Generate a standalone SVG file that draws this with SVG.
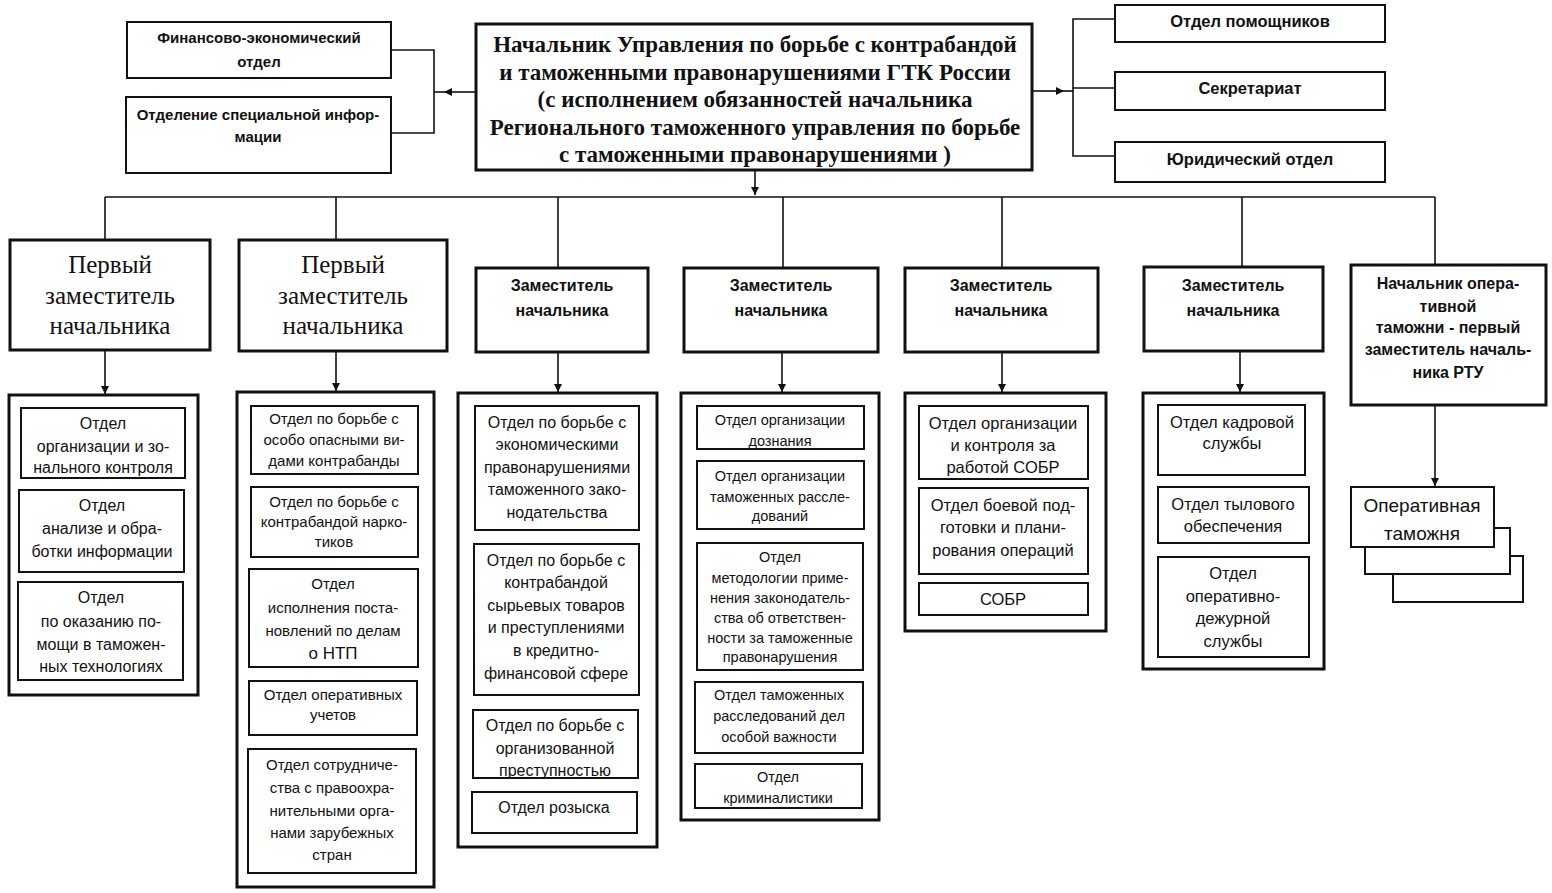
<svg xmlns="http://www.w3.org/2000/svg" width="1552" height="893" viewBox="0 0 1552 893">
<style>
.bx{fill:#fff;stroke:#111;stroke-width:2}
.bk{fill:#fff;stroke:#111;stroke-width:3}
.ln{fill:none;stroke:#111;stroke-width:1.6}
text{fill:#111;text-anchor:middle}
.s{font-family:"Liberation Sans",Arial,sans-serif}
.sb{font-family:"Liberation Sans",Arial,sans-serif;font-weight:bold}
.sf{font-family:"Liberation Serif","Times New Roman",serif}
.sfb{font-family:"Liberation Serif","Times New Roman",serif;font-weight:bold;font-size:23px}
.f16{font-size:16px}.f15{font-size:15px}.f145{font-size:14.5px}.f165{font-size:16.5px}
.dep{font-family:"Liberation Serif","Times New Roman",serif;font-size:25px}
.dz{font-family:"Liberation Sans",Arial,sans-serif;font-weight:bold;font-size:16px}
</style>
<defs>
<marker id="ad" viewBox="0 0 8 10" refX="8" refY="5" markerWidth="8" markerHeight="10" markerUnits="userSpaceOnUse" orient="auto">
<path d="M0,1 L8,5 L0,9 Z" fill="#111"/>
</marker>
</defs>
<rect width="1552" height="893" fill="#fff"/>

<g id="connectors">
<line class="ln" x1="475" y1="92" x2="444" y2="92" marker-end="url(#ad)"/>
<line class="ln" x1="444" y1="92" x2="434" y2="92"/>
<polyline class="ln" points="391,50 434,50 434,133 391,133"/>
<line class="ln" x1="1032" y1="91" x2="1064" y2="91" marker-end="url(#ad)"/>
<line class="ln" x1="1064" y1="91" x2="1073" y2="91"/>
<polyline class="ln" points="1115,19 1073,19 1073,156 1115,156"/>
<line class="ln" x1="1073" y1="88" x2="1115" y2="88"/>
<line class="ln" x1="755" y1="170" x2="755" y2="195" marker-end="url(#ad)"/>
<line class="ln" x1="105" y1="197" x2="1435" y2="197"/>
<line class="ln" x1="105" y1="197" x2="105" y2="240"/>
<line class="ln" x1="336" y1="197" x2="336" y2="240"/>
<line class="ln" x1="558" y1="197" x2="558" y2="267"/>
<line class="ln" x1="783" y1="197" x2="783" y2="267"/>
<line class="ln" x1="1002" y1="197" x2="1002" y2="267"/>
<line class="ln" x1="1242" y1="197" x2="1242" y2="267"/>
<line class="ln" x1="1435" y1="197" x2="1435" y2="265"/>
<line class="ln" x1="105" y1="350" x2="105" y2="394" marker-end="url(#ad)"/>
<line class="ln" x1="336" y1="351" x2="336" y2="391" marker-end="url(#ad)"/>
<line class="ln" x1="558" y1="352" x2="558" y2="392" marker-end="url(#ad)"/>
<line class="ln" x1="782" y1="352" x2="782" y2="392" marker-end="url(#ad)"/>
<line class="ln" x1="1002" y1="352" x2="1002" y2="392" marker-end="url(#ad)"/>
<line class="ln" x1="1240" y1="351" x2="1240" y2="392" marker-end="url(#ad)"/>
<line class="ln" x1="1435" y1="405" x2="1435" y2="486" marker-end="url(#ad)"/>
</g>

<g id="fin">
<rect class="bx" x="127" y="22" width="264" height="56"/>
<text class="sb" font-size="15" x="259" y="43">Финансово-экономический</text>
<text class="sb" font-size="15" x="259" y="67">отдел</text>
</g>
<g id="specinfo">
<rect class="bx" x="126" y="97" width="265" height="76"/>
<text class="sb" font-size="15" x="258" y="120">Отделение специальной инфор-</text>
<text class="sb" font-size="15" x="258" y="142">мации</text>
</g>

<g id="head">
<rect class="bk" x="476" y="24" width="556" height="146"/>
<text class="sfb" x="755" y="52">Начальник Управления по борьбе с контрабандой</text>
<text class="sfb" x="755" y="80">и таможенными  правонарушениями ГТК России</text>
<text class="sfb" x="755" y="107">(с исполнением обязанностей  начальника</text>
<text class="sfb" x="755" y="135">Регионального таможенного управления по борьбе</text>
<text class="sfb" x="755" y="162">с таможенными правонарушениями )</text>
</g>

<g id="pom">
<rect class="bx" x="1115" y="5" width="270" height="37"/>
<text class="sb f165" x="1250" y="27">Отдел помощников</text>
</g>
<g id="secr">
<rect class="bx" x="1115" y="72" width="270" height="38"/>
<text class="sb f165" x="1250" y="94">Секретариат</text>
</g>
<g id="jur">
<rect class="bx" x="1115" y="142" width="270" height="40"/>
<text class="sb f165" x="1250" y="165">Юридический отдел</text>
</g>

<g id="dep1">
<rect class="bk" x="10" y="240" width="200" height="110"/>
<text class="dep" x="110" y="273">Первый</text>
<text class="dep" x="110" y="304">заместитель</text>
<text class="dep" x="110" y="334">начальника</text>
</g>
<g id="dep2">
<rect class="bk" x="239" y="240" width="208" height="111"/>
<text class="dep" x="343" y="273">Первый</text>
<text class="dep" x="343" y="304">заместитель</text>
<text class="dep" x="343" y="334">начальника</text>
</g>
<g id="dep3">
<rect class="bk" x="476" y="268" width="172" height="84"/>
<text class="dz" x="562" y="291">Заместитель</text>
<text class="dz" x="562" y="316">начальника</text>
</g>
<g id="dep4">
<rect class="bk" x="684" y="268" width="194" height="84"/>
<text class="dz" x="781" y="291">Заместитель</text>
<text class="dz" x="781" y="316">начальника</text>
</g>
<g id="dep5">
<rect class="bk" x="905" y="268" width="193" height="84"/>
<text class="dz" x="1001" y="291">Заместитель</text>
<text class="dz" x="1001" y="316">начальника</text>
</g>
<g id="dep6">
<rect class="bk" x="1144" y="267" width="179" height="84"/>
<text class="dz" x="1233" y="291">Заместитель</text>
<text class="dz" x="1233" y="316">начальника</text>
</g>
<g id="dep7">
<rect class="bk" x="1351" y="265" width="195" height="140"/>
<text class="dz" font-size="15.5" x="1448" y="289">Начальник опера-</text>
<text class="dz" font-size="15.5" x="1448" y="312">тивной</text>
<text class="dz" font-size="15.5" x="1448" y="333">таможни - первый</text>
<text class="dz" font-size="15.5" x="1448" y="355">заместитель началь-</text>
<text class="dz" font-size="15.5" x="1448" y="378">ника РТУ</text>
</g>

<g id="col1">
<rect class="bk" x="9" y="395" width="189" height="300"/>
<rect class="bx" x="21" y="408" width="164" height="70"/>
<text class="s f16" x="103" y="429">Отдел</text>
<text class="s f16" x="103" y="452">организации и зо-</text>
<text class="s f16" x="103" y="473">нального контроля</text>
<rect class="bx" x="19" y="490" width="165" height="82"/>
<text class="s f16" x="102" y="511">Отдел</text>
<text class="s f16" x="102" y="534">анализе и обра-</text>
<text class="s f16" x="102" y="557">ботки информации</text>
<rect class="bx" x="18" y="582" width="165" height="98"/>
<text class="s f16" x="101" y="603">Отдел</text>
<text class="s f16" x="101" y="627">по оказанию по-</text>
<text class="s f16" x="101" y="650">мощи в таможен-</text>
<text class="s f16" x="101" y="672">ных технологиях</text>
</g>

<g id="col2">
<rect class="bk" x="237" y="392" width="197" height="495"/>
<rect class="bx" x="251" y="406" width="167" height="68"/>
<text class="s f15" x="334" y="424">Отдел по борьбе с</text>
<text class="s f15" x="334" y="445">особо опасными ви-</text>
<text class="s f15" x="334" y="466">дами контрабанды</text>
<rect class="bx" x="251" y="487" width="167" height="70"/>
<text class="s f15" x="334" y="507">Отдел по борьбе с</text>
<text class="s f15" x="334" y="527">контрабандой нарко-</text>
<text class="s f15" x="334" y="547">тиков</text>
<rect class="bx" x="249" y="569" width="169" height="98"/>
<text class="s f15" x="333" y="589">Отдел</text>
<text class="s f15" x="333" y="613">исполнения поста-</text>
<text class="s f15" x="333" y="636">новлений по делам</text>
<text class="s" font-size="17" x="333" y="659">о НТП</text>
<rect class="bx" x="249" y="681" width="168" height="54"/>
<text class="s f15" x="333" y="700">Отдел оперативных</text>
<text class="s f15" x="333" y="720">учетов</text>
<rect class="bx" x="248" y="749" width="168" height="124"/>
<text class="s f15" x="332" y="770">Отдел сотрудниче-</text>
<text class="s f15" x="332" y="793">ства с правоохра-</text>
<text class="s f15" x="332" y="816">нительными орга-</text>
<text class="s f15" x="332" y="838">нами зарубежных</text>
<text class="s f15" x="332" y="860">стран</text>
</g>

<g id="col3">
<rect class="bk" x="458" y="393" width="199" height="454"/>
<rect class="bx" x="475" y="406" width="164" height="124"/>
<text class="s f16" x="557" y="428">Отдел по борьбе с</text>
<text class="s f16" x="557" y="450">экономическими</text>
<text class="s f16" x="557" y="473">правонарушениями</text>
<text class="s f16" x="557" y="495">таможенного зако-</text>
<text class="s f16" x="557" y="518">нодательства</text>
<rect class="bx" x="474" y="544" width="165" height="151"/>
<text class="s f16" x="556" y="566">Отдел по борьбе с</text>
<text class="s f16" x="556" y="588">контрабандой</text>
<text class="s f16" x="556" y="611">сырьевых товаров</text>
<text class="s f16" x="556" y="633">и преступлениями</text>
<text class="s f16" x="556" y="656">в кредитно-</text>
<text class="s f16" x="556" y="679">финансовой сфере</text>
<rect class="bx" x="473" y="710" width="165" height="68"/>
<text class="s f16" x="555" y="731">Отдел по борьбе с</text>
<text class="s f16" x="555" y="754">организованной</text>
<text class="s f16" x="555" y="776">преступностью</text>
<rect class="bx" x="472" y="792" width="165" height="41"/>
<text class="s f16" x="554" y="813">Отдел  розыска</text>
</g>

<g id="col4">
<rect class="bk" x="681" y="393" width="198" height="427"/>
<rect class="bx" x="697" y="406" width="167" height="43"/>
<text class="s f145" x="780" y="425">Отдел организации</text>
<text class="s f145" x="780" y="446">дознания</text>
<rect class="bx" x="697" y="461" width="167" height="68"/>
<text class="s f145" x="780" y="481">Отдел организации</text>
<text class="s f145" x="780" y="502">таможенных рассле-</text>
<text class="s f145" x="780" y="521">дований</text>
<rect class="bx" x="697" y="543" width="166" height="127"/>
<text class="s f145" x="780" y="562">Отдел</text>
<text class="s f145" x="780" y="583">методологии приме-</text>
<text class="s f145" x="780" y="603">нения законодатель-</text>
<text class="s f145" x="780" y="623">ства об ответствен-</text>
<text class="s f145" x="780" y="643">ности за таможенные</text>
<text class="s f145" x="780" y="662">правонарушения</text>
<rect class="bx" x="695" y="682" width="168" height="71"/>
<text class="s f145" x="779" y="700">Отдел  таможенных</text>
<text class="s f145" x="779" y="721">расследований дел</text>
<text class="s f145" x="779" y="742">особой важности</text>
<rect class="bx" x="695" y="764" width="167" height="44"/>
<text class="s f145" x="778" y="782">Отдел</text>
<text class="s f145" x="778" y="803">криминалистики</text>
</g>

<g id="col5">
<rect class="bk" x="905" y="393" width="201" height="238"/>
<rect class="bx" x="919" y="406" width="169" height="73"/>
<text class="s f165" x="1003" y="429">Отдел организации</text>
<text class="s f165" x="1003" y="451">и контроля за</text>
<text class="s f165" x="1003" y="473">работой СОБР</text>
<rect class="bx" x="919" y="488" width="169" height="86"/>
<text class="s f165" x="1003" y="511">Отдел боевой под-</text>
<text class="s f165" x="1003" y="533">готовки и плани-</text>
<text class="s f165" x="1003" y="556">рования операций</text>
<rect class="bx" x="919" y="583" width="169" height="32"/>
<text class="s f165" x="1003" y="605">СОБР</text>
</g>

<g id="col6">
<rect class="bk" x="1143" y="393" width="181" height="276"/>
<rect class="bx" x="1158" y="405" width="147" height="70"/>
<text class="s f165" x="1232" y="428">Отдел кадровой</text>
<text class="s f165" x="1232" y="449">службы</text>
<rect class="bx" x="1158" y="487" width="151" height="56"/>
<text class="s f165" x="1233" y="510">Отдел тылового</text>
<text class="s f165" x="1233" y="532">обеспечения</text>
<rect class="bx" x="1158" y="557" width="151" height="100"/>
<text class="s f165" x="1233" y="579">Отдел</text>
<text class="s f165" x="1233" y="602">оперативно-</text>
<text class="s f165" x="1233" y="624">дежурной</text>
<text class="s f165" x="1233" y="647">службы</text>
</g>

<g id="opt">
<rect class="bx" x="1393" y="556" width="130" height="46"/>
<rect class="bx" x="1365" y="528" width="145" height="46"/>
<rect class="bx" x="1351" y="487" width="143" height="60"/>
<text class="s" font-size="19" x="1422" y="512">Оперативная</text>
<text class="s" font-size="19" x="1422" y="540">таможня</text>
</g>
</svg>
